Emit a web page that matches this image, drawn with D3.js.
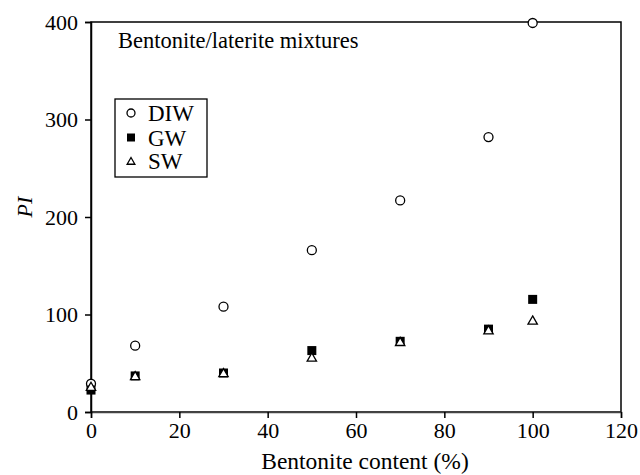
<!DOCTYPE html>
<html><head><meta charset="utf-8">
<script src="https://d3js.org/d3.v7.min.js"></script>
<style>body{margin:0;background:#fff}svg{display:block}</style>
</head><body><svg id="c" width="640" height="475"></svg>
<script>
const bentonite = [0, 10, 30, 50, 70, 90, 100];
const diw = [29, 68, 108, 166, 217, 282, 399];
const gw  = [22.5, 37, 40, 63, 72.5, 85, 115.5];
const sw  = [26, 37, 40, 56, 72, 84, 94];
const xTicks = [0, 20, 40, 60, 80, 100, 120];
const yTicks = [0, 100, 200, 300, 400];
const seriesNames = ["DIW", "GW", "SW"];

const FONT = "'Liberation Serif', 'Times New Roman', Tinos, 'DejaVu Serif', serif";
const svg = d3.select("#c");
const L = 91, R = 621, T = 22, B = 412;
const x = d3.scaleLinear().domain([0, 120]).range([L, R]);
const y = d3.scaleLinear().domain([0, 400]).range([B, T]);

// frame
svg.append("rect").attr("x", L).attr("y", T).attr("width", R - L).attr("height", B - T)
  .attr("fill", "none").attr("stroke", "#000").attr("stroke-width", 1.5);

const xAxis = svg.append("g").attr("transform", `translate(0,${B})`)
  .call(d3.axisBottom(x).tickValues(xTicks).tickSize(6).tickPadding(4).tickFormat(d3.format("d")));
const yAxis = svg.append("g").attr("transform", `translate(${L},0)`)
  .call(d3.axisLeft(y).tickValues(yTicks).tickSize(6).tickPadding(7).tickFormat(d3.format("d")));
[xAxis, yAxis].forEach(g => {
  g.attr("font-family", null).attr("font-size", null);
  g.select(".domain").attr("stroke", "#000").attr("stroke-width", 1.5);
  g.selectAll(".tick line").attr("stroke", "#000").attr("stroke-width", 1.5);
  g.selectAll("text").style("font-family", FONT).style("font-size", "22px").attr("fill", "#000");
});
xAxis.select(".domain").attr("stroke", "#444");

// axis titles
svg.append("text").attr("x", 365).attr("y", 469).attr("text-anchor", "middle")
  .style("font-family", FONT).style("font-size", "23.5px").text("Bentonite content (%)");
svg.append("text").attr("transform", `translate(32,${(T + B) / 2 - 10}) rotate(-90)`)
  .attr("text-anchor", "middle").style("font-family", FONT).style("font-size", "22px").attr("font-style", "italic").text("PI");

// annotation
svg.append("text").attr("x", 118).attr("y", 48).style("font-family", FONT).style("font-size", "22.5px").text("Bentonite/laterite mixtures");

const pts = d => bentonite.map((b, i) => ({ b, v: d[i] }));

// DIW circles
svg.append("g").selectAll("circle").data(pts(diw)).join("circle")
  .attr("cx", d => x(d.b)).attr("cy", d => y(d.v)).attr("r", 4.5)
  .attr("fill", "#fff").attr("stroke", "#000").attr("stroke-width", 1.3);
// GW squares
svg.append("g").selectAll("rect").data(pts(gw)).join("rect")
  .attr("x", d => x(d.b) - 4.5).attr("y", d => y(d.v) - 4.5).attr("width", 9).attr("height", 9)
  .attr("fill", "#000");
// SW triangles
const tri = d3.symbol().type(d3.symbolTriangle).size(38);
svg.append("g").selectAll("path").data(pts(sw)).join("path")
  .attr("transform", d => `translate(${x(d.b)},${y(d.v) + 1})`).attr("d", tri)
  .attr("fill", "#fff").attr("stroke", "#000").attr("stroke-width", 1.3);

// legend
const lg = svg.append("g");
lg.append("rect").attr("x", 115).attr("y", 99).attr("width", 92).attr("height", 78)
  .attr("fill", "#fff").attr("stroke", "#000").attr("stroke-width", 1.3);
const ly = [113, 137.5, 161];
lg.append("circle").attr("cx", 131).attr("cy", ly[0]).attr("r", 4)
  .attr("fill", "#fff").attr("stroke", "#000").attr("stroke-width", 1.3);
lg.append("rect").attr("x", 127).attr("y", ly[1] - 4).attr("width", 8).attr("height", 8).attr("fill", "#000");
lg.append("path").attr("transform", `translate(131,${ly[2] + 1})`).attr("d", d3.symbol().type(d3.symbolTriangle).size(26))
  .attr("fill", "#fff").attr("stroke", "#000").attr("stroke-width", 1.3);
seriesNames.forEach((n, i) => {
  lg.append("text").attr("x", 148).attr("y", ly[i]).attr("dy", "0.35em")
    .style("font-family", FONT).style("font-size", "23px").text(n);
});
</script></body></html>
